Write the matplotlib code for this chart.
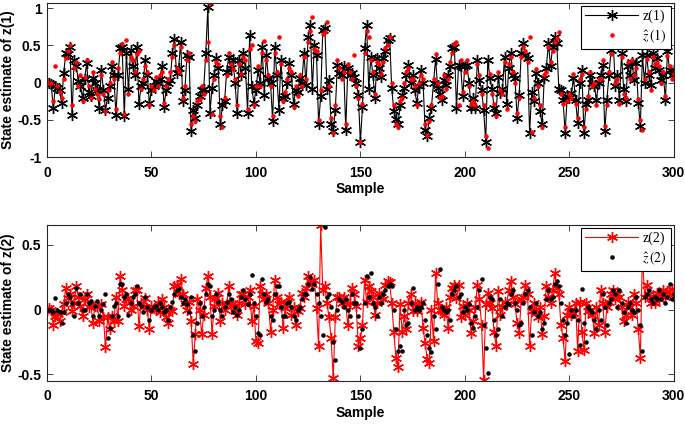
import numpy as np
import matplotlib
matplotlib.use("Agg")
import matplotlib.pyplot as plt

plt.rcParams['font.family'] = ['Liberation Sans', 'DejaVu Sans']
plt.rcParams['axes.unicode_minus'] = False
plt.rcParams['mathtext.fontset'] = 'stix'

# --- data (samples 0..300) ---
z1 = [0.0, 0.0, -0.02, -0.34, -0.05, -0.07, -0.1, -0.27, 0.13, 0.4,
      0.38, 0.48, -0.43, 0.3, 0.22, 0.02, -0.05, -0.2, 0.05, 0.26,
      -0.12, -0.18, 0.06, 0.0, -0.1, -0.34, 0.17, -0.1, -0.36, -0.2,
      -0.05, 0.22, 0.1, -0.43, 0.1, 0.46, 0.48, -0.45, 0.4, -0.09,
      0.44, 0.22, 0.1, 0.48, -0.29, -0.05, 0.0, 0.3, 0.1, -0.27,
      -0.1, -0.05, 0.02, 0.0, 0.05, 0.22, -0.32, -0.1, 0.0, 0.04,
      0.4, 0.58, 0.13, 0.2, 0.55, -0.25, -0.1, 0.37, 0.35, -0.65,
      -0.36, -0.47, -0.3, -0.18, -0.1, -0.09, 0.4, 1.02, -0.4, -0.07,
      0.1, 0.33, 0.2, -0.56, -0.3, -0.25, 0.15, 0.35, 0.2, 0.3,
      0.0, -0.4, 0.31, 0.1, 0.4, 0.2, -0.4, 0.64, -0.05, -0.27,
      -0.1, 0.17, 0.0, 0.48, -0.16, 0.37, 0.06, 0.0, -0.52, 0.48,
      0.1, -0.36, 0.31, -0.2, -0.18, 0.0, 0.26, 0.11, -0.29, -0.1,
      -0.12, 0.06, 0.0, 0.4, -0.03, 0.62, 0.77, -0.09, 0.51, 0.37,
      -0.56, -0.18, 0.71, 0.73, -0.09, 0.04, -0.56, -0.65, -0.36, 0.24,
      0.13, 0.1, 0.22, -0.63, 0.2, 0.1, 0.13, 0.08, 0.0, -0.16,
      -0.8, -0.32, 0.46, 0.77, -0.09, 0.35, 0.1, -0.2, 0.33, 0.2,
      0.08, 0.33, 0.42, 0.57, 0.6, -0.07, -0.38, -0.49, -0.56, -0.3,
      -0.16, -0.07, 0.1, 0.24, 0.0, 0.11, -0.1, -0.27, -0.05, 0.17,
      0.0, -0.63, -0.72, -0.47, -0.34, 0.0, 0.32, -0.07, -0.15, -0.23,
      0.04, -0.03, 0.1, 0.22, 0.46, 0.48, -0.34, 0.24, 0.22, -0.18,
      0.22, 0.24, 0.0, -0.34, -0.2, -0.34, 0.31, 0.04, -0.1, -0.36,
      -0.8, 0.31, 0.06, -0.09, -0.34, -0.4, 0.08, -0.14, -0.09, 0.35,
      -0.29, 0.2, 0.4, 0.1, 0.06, -0.47, -0.16, 0.4, 0.53, 0.37,
      0.33, -0.67, -0.12, -0.25, 0.13, 0.0, -0.38, -0.56, 0.06, 0.2,
      0.53, 0.22, 0.48, 0.62, 0.53, -0.09, -0.1, -0.23, -0.67, -0.18,
      -0.2, -0.14, 0.06, -0.23, -0.54, 0.0, 0.17, -0.67, -0.29, -0.23,
      0.11, 0.0, -0.05, -0.23, 0.0, 0.1, 0.24, -0.65, -0.23, 0.1,
      0.44, 0.57, -0.05, 0.1, -0.23, 0.4, -0.09, -0.25, 0.22, 0.1,
      0.28, 0.04, 0.26, -0.27, -0.58, 0.37, 0.0, 0.37, 0.1, -0.03,
      0.4, 0.2, 0.33, 0.17, 0.04, 0.1, -0.23, 0.42, 0.17, 0.1,
      0.17]

z1_hat = [0.0, 0.0, 0.0, -0.25, 0.23, -0.05, -0.12, -0.2, 0.05, 0.33,
          0.42, 0.5, -0.3, 0.2, 0.28, -0.05, 0.1, -0.25, 0.08, 0.3,
          -0.05, -0.2, 0.15, -0.08, -0.15, -0.22, 0.1, -0.15, -0.38, -0.1,
          0.0, 0.28, 0.05, -0.35, 0.2, 0.4, 0.52, -0.42, 0.57, -0.15,
          0.35, 0.3, 0.15, 0.38, 0.42, -0.08, 0.05, 0.22, 0.15, -0.3,
          -0.05, -0.1, 0.08, -0.05, 0.1, 0.15, -0.27, -0.05, 0.05, 0.15,
          0.35, 0.5, 0.2, 0.15, 0.48, -0.2, -0.05, 0.3, 0.4, -0.55,
          -0.45, -0.52, -0.25, -0.22, -0.05, -0.15, 0.3, 0.55, 1.07, -0.42,
          0.05, 0.28, 0.25, -0.45, -0.59, -0.2, 0.1, 0.4, 0.25, 0.18,
          0.05, -0.3, 0.25, 0.12, 0.35, 0.3, -0.35, 0.45, 0.5, -0.3,
          -0.05, 0.22, -0.05, 0.4, 0.56, 0.3, 0.1, -0.05, -0.45, 0.4,
          0.15, 0.62, 0.25, -0.25, -0.12, 0.05, 0.2, 0.15, -0.33, -0.05,
          -0.18, 0.1, -0.05, 0.35, 0.05, 0.55, 0.7, 0.88, 0.45, 0.42,
          -0.5, -0.1, 0.65, 0.68, 0.82, -0.05, -0.48, -0.67, -0.3, 0.3,
          0.2, 0.05, 0.15, -0.55, 0.25, 0.15, 0.05, 0.37, -0.05, -0.2,
          -0.8, -0.28, 0.4, 0.7, 0.61, 0.3, 0.15, -0.15, 0.28, 0.25,
          0.12, 0.28, 0.47, 0.5, 0.62, 0.0, -0.3, -0.55, -0.6, -0.25,
          -0.2, 0.0, 0.15, 0.2, 0.05, 0.05, -0.05, -0.3, 0.0, 0.1,
          0.05, -0.55, -0.7, -0.52, -0.3, 0.05, 0.38, 0.0, -0.2, -0.18,
          0.1, -0.08, 0.05, 0.28, 0.4, 0.52, 0.55, -0.3, 0.3, -0.12,
          0.15, 0.3, -0.05, -0.28, -0.25, -0.3, 0.25, 0.1, -0.15, -0.3,
          -0.72, -0.88, 0.12, -0.15, -0.28, -0.45, 0.15, -0.1, -0.15, 0.28,
          -0.35, 0.25, 0.35, 0.15, 0.0, -0.4, -0.2, 0.35, 0.48, 0.42,
          0.28, 0.62, -0.66, -0.2, 0.18, -0.05, -0.3, -0.6, 0.1, 0.15,
          0.48, 0.28, 0.42, 0.55, 0.6, 0.68, -0.15, -0.28, -0.6, -0.25,
          -0.15, -0.2, 0.12, -0.28, -0.48, 0.05, 0.12, -0.6, -0.35, -0.18,
          0.15, -0.05, 0.0, -0.3, 0.05, 0.05, 0.3, -0.58, -0.3, 0.15,
          0.38, 0.5, 0.0, 0.05, -0.28, 0.35, -0.15, -0.2, 0.28, 0.05,
          0.3, 0.1, 0.2, -0.22, -0.5, -0.64, 0.05, 0.32, 0.15, -0.1,
          0.35, 0.25, 0.28, 0.22, 0.0, 0.15, -0.18, 0.36, 0.22, 0.05,
          0.12]

z2 = [0.0, 0.01, 0.0, -0.12, -0.05, -0.03, -0.09, -0.02, 0.04, 0.17,
      0.09, 0.12, -0.01, 0.05, 0.18, 0.1, 0.03, -0.05, 0.08, 0.12,
      0.02, 0.04, -0.1, 0.03, 0.03, -0.09, 0.04, -0.06, -0.29, -0.06,
      -0.15, -0.05, -0.09, 0.1, -0.09, 0.26, 0.15, 0.03, 0.08, 0.09,
      0.0, 0.03, 0.15, 0.15, -0.13, 0.05, 0.02, 0.09, 0.0, -0.15,
      0.03, 0.01, 0.0, 0.05, -0.02, 0.08, 0.02, -0.06, -0.1, 0.0,
      -0.01, 0.18, 0.19, 0.12, 0.24, 0.12, 0.05, 0.0, 0.06, -0.09,
      -0.42, -0.19, 0.08, 0.0, -0.19, -0.04, 0.17, 0.26, 0.1, -0.19,
      0.03, 0.09, 0.13, -0.09, 0.05, 0.0, 0.04, 0.18, 0.03, 0.05,
      -0.01, -0.04, 0.05, 0.12, 0.12, 0.04, 0.1, 0.15, -0.09, 0.03,
      -0.24, -0.26, 0.18, 0.12, 0.08, 0.12, 0.05, -0.17, 0.0, 0.23,
      0.1, 0.04, 0.06, -0.14, 0.01, 0.05, 0.1, -0.04, 0.02, -0.12,
      -0.01, 0.01, 0.13, 0.1, 0.17, 0.26, 0.22, 0.2, 0.23, 0.01,
      -0.28, 0.65, 0.15, 0.18, 0.05, -0.06, -0.22, -0.53, -0.06, 0.1,
      0.1, 0.05, 0.1, 0.04, -0.12, 0.05, 0.17, 0.12, 0.03, -0.28,
      -0.22, -0.12, 0.23, 0.06, 0.18, 0.14, 0.1, -0.04, 0.05, 0.13,
      0.1, 0.08, 0.19, 0.22, 0.21, 0.05, -0.17, -0.37, -0.44, 0.04,
      -0.17, -0.05, -0.15, 0.05, 0.12, -0.01, 0.05, -0.01, 0.03, 0.06,
      -0.14, -0.26, -0.38, -0.41, 0.0, -0.24, 0.28, 0.05, 0.0, -0.01,
      -0.04, 0.02, -0.14, 0.1, 0.17, 0.19, 0.09, 0.19, -0.06, 0.03,
      -0.04, 0.05, 0.0, -0.18, -0.09, 0.02, 0.19, 0.08, -0.12, -0.54,
      0.04, 0.13, 0.05, 0.01, -0.17, -0.28, 0.14, -0.04, 0.02, 0.06,
      0.04, 0.15, 0.22, 0.1, 0.04, -0.1, -0.18, 0.08, 0.1, 0.19,
      0.12, -0.28, -0.01, 0.05, 0.0, -0.06, 0.02, -0.19, -0.05, 0.18,
      0.1, 0.05, 0.15, 0.28, 0.17, 0.12, -0.12, -0.22, -0.4, -0.04,
      0.02, -0.04, -0.03, 0.05, -0.32, 0.06, -0.17, -0.31, 0.05, -0.01,
      0.0, -0.04, -0.18, 0.02, -0.12, 0.15, 0.05, -0.17, 0.02, 0.06,
      0.12, 0.15, 0.08, 0.12, 0.1, 0.02, -0.09, -0.04, 0.06, 0.02,
      -0.04, 0.12, 0.05, -0.15, -0.37, 0.45, 0.1, 0.19, 0.12, 0.05,
      0.09, 0.05, 0.13, 0.08, 0.12, 0.15, 0.1, 0.14, 0.12, 0.16,
      0.1]

z2_hat = [0.0, 0.0, 0.0, -0.02, 0.09, 0.0, -0.02, -0.1, -0.02, 0.05,
          0.12, 0.1, 0.05, -0.05, 0.17, 0.05, 0.12, 0.0, 0.0, 0.12,
          0.05, 0.07, -0.05, 0.03, 0.07, -0.05, 0.0, 0.04, 0.12, -0.22,
          -0.14, -0.05, 0.03, 0.05, -0.05, 0.2, 0.2, 0.1, 0.12, -0.04,
          0.05, 0.1, 0.12, 0.18, 0.05, 0.03, -0.02, 0.1, 0.02, -0.08,
          0.0, 0.02, 0.03, 0.0, 0.05, 0.02, -0.02, 0.0, -0.08, 0.02,
          0.06, 0.12, 0.15, 0.16, 0.1, 0.05, 0.08, 0.04, -0.02, 0.1,
          -0.2, -0.32, -0.1, 0.05, -0.05, 0.02, 0.12, 0.2, 0.18, -0.05,
          0.0, 0.12, 0.06, 0.0, -0.05, 0.02, 0.06, 0.12, 0.08, -0.02,
          0.02, -0.04, 0.0, 0.1, 0.15, 0.08, 0.04, 0.12, 0.27, 0.05,
          -0.05, -0.18, -0.2, 0.24, 0.12, 0.06, 0.08, -0.05, -0.08, 0.12,
          0.18, 0.18, 0.02, -0.05, -0.05, 0.05, 0.06, 0.02, -0.05, -0.08,
          0.0, 0.02, 0.08, 0.12, 0.12, 0.2, 0.25, 0.16, 0.2, 0.12,
          0.05, -0.05, -0.2, 0.64, 0.1, 0.12, 0.02, -0.25, -0.39, 0.0,
          0.08, 0.06, 0.02, 0.08, 0.0, -0.05, 0.12, 0.05, 0.05, -0.05,
          -0.3, -0.15, 0.05, 0.26, 0.1, 0.28, 0.05, 0.02, -0.05, 0.1,
          0.05, 0.12, 0.15, 0.18, 0.2, 0.18, 0.0, -0.15, -0.32, -0.28,
          -0.32, 0.0, -0.12, -0.1, 0.05, 0.17, 0.0, 0.02, 0.0, 0.02,
          0.05, -0.08, -0.2, -0.3, -0.33, -0.05, -0.15, 0.2, 0.31, 0.02,
          0.0, -0.02, 0.0, -0.08, 0.12, 0.15, 0.18, 0.1, 0.12, -0.02,
          0.02, 0.0, 0.04, -0.1, -0.14, -0.05, 0.02, 0.15, 0.24, -0.12,
          -0.3, -0.49, 0.1, 0.08, -0.08, -0.2, -0.15, 0.08, -0.05, 0.02,
          0.05, 0.04, 0.12, 0.15, 0.05, 0.0, -0.12, -0.1, 0.05, 0.12,
          0.15, 0.02, -0.2, -0.02, 0.05, -0.05, -0.02, -0.15, -0.1, 0.08,
          0.15, 0.08, 0.1, 0.2, 0.22, 0.18, 0.05, -0.08, -0.2, -0.1,
          -0.34, 0.0, -0.05, 0.0, -0.08, -0.27, 0.16, -0.1, -0.25, 0.02,
          0.0, -0.02, -0.08, -0.15, 0.0, -0.08, 0.12, 0.02, -0.12, 0.05,
          0.08, 0.15, 0.12, 0.02, 0.15, 0.05, -0.02, -0.1, 0.02, 0.05,
          0.0, -0.02, 0.1, 0.0, -0.12, -0.32, 0.1, 0.12, 0.15, 0.08,
          0.05, 0.1, 0.08, 0.15, 0.08, 0.12, 0.05, 0.1, 0.2, 0.08,
          0.12]

x_ticks = [0, 50, 100, 150, 200, 250, 300]
y1_ticks = [-1, -0.5, 0, 0.5, 1]
y1_labels = ['-1', '-0.5', '0', '0.5', '1']
y2_ticks = [-0.5, 0, 0.5]
y2_labels = ['-0.5', '0', '0.5']

samples = np.arange(len(z1))

asterisk = (6, 2, 0)
frame_col = '#262626'

fig = plt.figure(figsize=(6.85, 4.25), dpi=100)
ax1 = fig.add_axes([0.0686, 0.630, 0.915, 0.363])
ax2 = fig.add_axes([0.0686, 0.104, 0.915, 0.367])

ax1.plot(samples, z1, color='black', lw=0.8, marker=asterisk, ms=8, mew=1.0,
         label='z(1)')
ax1.plot(np.arange(len(z1_hat)), z1_hat, linestyle='none', marker='.',
         color='red', ms=4.5, label=r'$\hat{z}\,(1)$')

ax2.plot(samples, z2, color='red', lw=0.8, marker=asterisk, ms=8, mew=1.0,
         label='z(2)')
ax2.plot(np.arange(len(z2_hat)), z2_hat, linestyle='none', marker='.',
         color='black', ms=4.5, label=r'$\hat{z}\,(2)$')

for ax, yt, yl, ylim, lab in [(ax1, y1_ticks, y1_labels, (-1, 1.07), 'State estimate of z(1)'),
                              (ax2, y2_ticks, y2_labels, (-0.55, 0.655), 'State estimate of z(2)')]:
    ax.set_xlim(0, 300)
    ax.set_ylim(*ylim)
    ax.set_xticks(x_ticks)
    ax.set_xticklabels([str(t) for t in x_ticks], fontweight='bold', fontsize=10)
    ax.set_yticks(yt)
    ax.set_yticklabels(yl, fontweight='bold', fontsize=10)
    ax.tick_params(direction='in', top=True, right=True, length=4, width=0.6,
                   color=frame_col)
    ax.tick_params(axis='x', pad=6)
    ax.tick_params(axis='y', pad=4)
    for sp in ax.spines.values():
        sp.set_color(frame_col)
        sp.set_linewidth(0.8)
    ax.set_xlabel('Sample', fontweight='bold', fontsize=10, labelpad=2)
    ax.set_ylabel(lab, fontweight='bold', fontsize=10, labelpad=2)
    leg = ax.legend(loc='upper right', fancybox=False, framealpha=1,
                    edgecolor='black', handlelength=3.8, borderaxespad=0.2,
                    prop={'family': 'Liberation Serif', 'size': 10},
                    labelspacing=0.3, borderpad=0.3, handletextpad=0.3)
    leg.get_frame().set_linewidth(0.8)

fig.savefig('out.png', dpi=100)
